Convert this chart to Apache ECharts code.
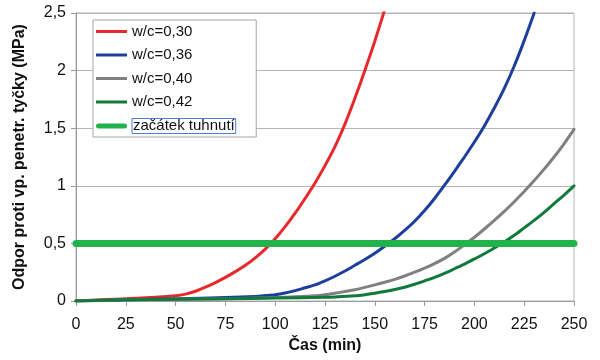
<!DOCTYPE html>
<html>
<head>
<meta charset="utf-8">
<script src="https://cdn.jsdelivr.net/npm/echarts@6/dist/echarts.min.js"></script>
<style>html,body{margin:0;padding:0;background:#fff}#c{width:600px;height:360px}</style>
</head>
<body>
<div id="c"></div>
<script>
var seriesNames = ['w/c=0,30', 'w/c=0,36', 'w/c=0,40', 'w/c=0,42', 'začátek tuhnutí'];
var xTicks = [0, 25, 50, 75, 100, 125, 150, 175, 200, 225, 250];
var yTicks = ['0', '0,5', '1', '1,5', '2', '2,5'];

var redT = [0, 10, 20, 30, 40, 50, 55, 60, 65, 70, 75, 80, 85, 90, 95, 100, 105, 110, 115, 120, 125, 130, 135, 140, 145, 150, 155];
var redV = [0, 0.008, 0.016, 0.024, 0.032, 0.045, 0.06, 0.085, 0.12, 0.16, 0.205, 0.255, 0.31, 0.375, 0.45, 0.54, 0.645, 0.762, 0.89, 1.025, 1.175, 1.34, 1.535, 1.76, 2.0, 2.255, 2.53];

var blueT = [0, 25, 50, 75, 90, 95, 100, 105, 110, 115, 120, 125, 130, 135, 140, 145, 150, 155, 160, 165, 170, 175, 180, 185, 190, 195, 200, 205, 210, 215, 220, 225, 230];
var blueV = [0, 0.01, 0.02, 0.03, 0.04, 0.047, 0.055, 0.07, 0.09, 0.115, 0.14, 0.175, 0.215, 0.26, 0.31, 0.36, 0.415, 0.475, 0.54, 0.612, 0.692, 0.785, 0.89, 1.005, 1.125, 1.25, 1.38, 1.52, 1.675, 1.845, 2.04, 2.26, 2.5];

var grayT = [0, 25, 50, 75, 100, 110, 120, 125, 130, 135, 140, 145, 150, 155, 160, 165, 170, 175, 180, 185, 190, 195, 200, 205, 210, 215, 220, 225, 230, 235, 240, 245, 250];
var grayV = [0, 0.01, 0.015, 0.02, 0.03, 0.036, 0.045, 0.055, 0.068, 0.082, 0.098, 0.118, 0.14, 0.163, 0.188, 0.217, 0.25, 0.285, 0.325, 0.37, 0.425, 0.487, 0.553, 0.625, 0.7, 0.778, 0.862, 0.95, 1.045, 1.145, 1.25, 1.365, 1.49];

var greenT = [0, 25, 50, 75, 100, 125, 130, 140, 145, 150, 155, 160, 165, 170, 175, 180, 185, 190, 195, 200, 205, 210, 215, 220, 225, 230, 235, 240, 245, 250];
var greenV = [0, 0.01, 0.015, 0.02, 0.025, 0.032, 0.035, 0.045, 0.055, 0.068, 0.083, 0.1, 0.12, 0.145, 0.175, 0.205, 0.24, 0.28, 0.32, 0.365, 0.41, 0.46, 0.512, 0.57, 0.635, 0.7, 0.77, 0.845, 0.92, 1.0];

var onsetT = [0, 250];
var onsetV = [0.5, 0.5];

function pairs(t, v) { return t.map(function (x, i) { return [x, v[i]]; }); }

var colors = ['#e8282b', '#1e3e9e', '#808080', '#0f7a3a', '#22b24c'];
var FONT = 'Liberation Sans, Arial, sans-serif';

function lineSeries(i, t, v, w, smooth) {
  return {
    name: seriesNames[i], type: 'line', data: pairs(t, v), showSymbol: false, symbol: 'none',
    smooth: smooth, color: colors[i], lineStyle: { width: w, color: colors[i], cap: 'round', join: 'round' }, clip: true,
    animation: false
  };
}

var chart = echarts.init(document.getElementById('c'));
chart.setOption({
  animation: false,
  grid: { left: 76, right: 26, top: 13, bottom: 59, show: true, borderColor: '#b5b5b5', borderWidth: 1 },
  legend: {
    left: 93, top: 20, orient: 'vertical', itemWidth: 31, itemHeight: 14, itemGap: 8.5,
    padding: [4, 20, 3, 3], borderColor: '#a5a5a5', borderWidth: 1, backgroundColor: '#fff',
    textStyle: { fontFamily: FONT, fontSize: 15, color: '#111', lineHeight: 14 },
    data: seriesNames.map(function (n, i) {
      var d = {
        name: n,
        icon: i === 4 ? 'path://M2.5,0H28.5A2.5,2.5 0 0 1 28.5,5H2.5A2.5,2.5 0 0 1 2.5,0Z' : 'path://M0,0H31V3H0Z',
        itemStyle: { color: colors[i] }
      };
      if (i === 4) {
        d.textStyle = { borderColor: '#4a7fd6', borderWidth: 1, padding: [1, 1, 0, 1] };
      }
      return d;
    })
  },
  xAxis: {
    type: 'value', min: 0, max: 250, interval: 25,
    name: 'Čas (min)', nameLocation: 'middle', nameGap: 37,
    nameTextStyle: { fontFamily: FONT, fontSize: 16, fontWeight: 'bold', color: '#111' },
    axisLine: { show: true, lineStyle: { color: '#9a9a9a', width: 1 } },
    axisTick: { show: true, length: 5, lineStyle: { color: '#9a9a9a' } },
    axisLabel: { fontFamily: FONT, fontSize: 16, color: '#111', margin: 16 },
    splitLine: { show: false }
  },
  yAxis: {
    type: 'value', min: 0, max: 2.5, interval: 0.5,
    name: 'Odpor proti vp. penetr. tyčky (MPa)', nameLocation: 'middle', nameGap: 48,
    nameTextStyle: { fontFamily: FONT, fontSize: 16, fontWeight: 'bold', color: '#111' },
    axisLine: { show: true, lineStyle: { color: '#9a9a9a', width: 1 } },
    axisTick: { show: true, length: 5, lineStyle: { color: '#9a9a9a' } },
    axisLabel: {
      fontFamily: FONT, fontSize: 16, color: '#111', margin: 10,
      formatter: function (v) { return yTicks[Math.round(v / 0.5)]; }
    },
    splitLine: { show: true, lineStyle: { color: '#b5b5b5', width: 1 } }
  },
  series: [
    lineSeries(0, redT, redV, 3, 0.25),
    lineSeries(1, blueT, blueV, 3, 0.25),
    lineSeries(2, grayT, grayV, 3, 0.25),
    lineSeries(3, greenT, greenV, 3, 0.25),
    lineSeries(4, onsetT, onsetV, 7, false)
  ]
});
</script>
</body>
</html>
